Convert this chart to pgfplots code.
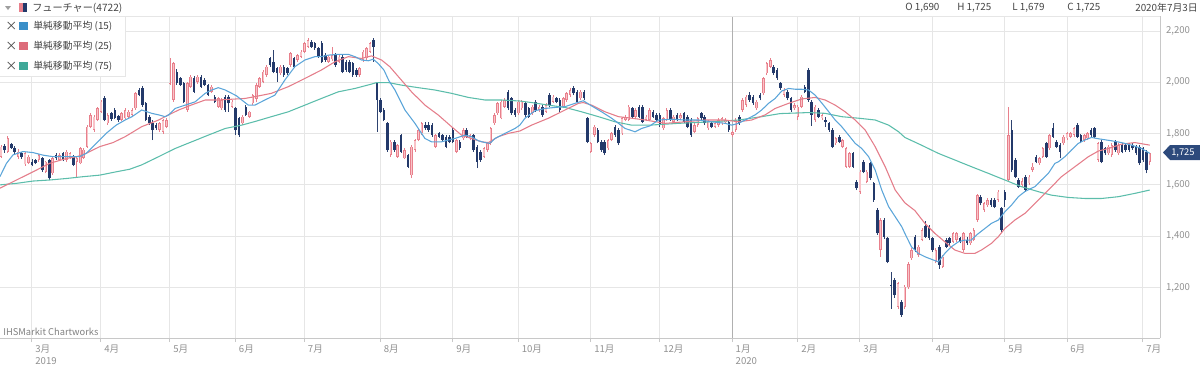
\documentclass[border=0pt]{standalone}
\usepackage{pgfplots}
\usepackage{pgfplotstable}
\pgfplotsset{compat=1.18}
\usepackage{fontspec}
\setmainfont{Noto Sans CJK JP}
\definecolor{upbody}{HTML}{F9C3C8}
\definecolor{upwick}{HTML}{E8808C}
\definecolor{dnbody}{HTML}{23396A}
\definecolor{dnwick}{HTML}{2E4370}
\definecolor{smaA}{HTML}{5BA5D9}
\definecolor{smaB}{HTML}{E47D8A}
\definecolor{smaC}{HTML}{5CBDAB}
\definecolor{sqA}{HTML}{3A8FC8}
\definecolor{sqB}{HTML}{DD6C7A}
\definecolor{sqC}{HTML}{3FA898}
\definecolor{gridgray}{HTML}{E6E6E6}
\definecolor{yeargray}{HTML}{B0B0B0}
\definecolor{axisgray}{HTML}{C8C8C8}
\definecolor{labgray}{HTML}{909090}
\definecolor{hdr}{HTML}{444444}
\definecolor{tagnavy}{HTML}{2D4A7C}
\pgfplotsset{
  up only/.style={restrict expr to domain={\thisrow{c}-\thisrow{o}}{0:100000}},
  down only/.style={restrict expr to domain={\thisrow{c}-\thisrow{o}}{-100000:-0.5}},
}
\pgfplotstableread{
i o h l c
-9 1710 1755 1705 1749
-8 1750 1760 1725 1735
-7 1730 1790 1725 1781
-6 1758 1765 1740 1745
-5 1745 1750 1720 1730
-4 1710 1740 1700 1730
-3 1723 1728 1700 1710
-2 1680 1728 1675 1723
-1 1685 1715 1680 1710
0 1690 1700 1672 1678
1 1697 1702 1680 1684
2 1697 1722 1690 1717
3 1703 1708 1652 1658
4 1650 1695 1645 1690
5 1697 1700 1620 1625
6 1645 1710 1640 1703
7 1717 1725 1698 1703
8 1697 1725 1692 1717
9 1723 1730 1692 1697
10 1697 1735 1690 1730
11 1705 1730 1700 1723
12 1710 1715 1672 1678
13 1690 1710 1632 1703
14 1684 1748 1680 1743
15 1705 1745 1700 1737
16 1749 1835 1745 1827
17 1827 1880 1820 1873
18 1814 1872 1808 1866
19 1853 1905 1848 1898
20 1885 1932 1880 1924
21 1937 1945 1848 1853
22 1840 1880 1835 1873
23 1880 1885 1850 1858
24 1892 1898 1855 1860
25 1867 1873 1845 1853
26 1853 1885 1848 1880
27 1860 1898 1855 1892
28 1866 1892 1860 1885
29 1873 1898 1868 1892
30 1898 1962 1893 1957
31 1970 1978 1945 1950
32 1976 1985 1905 1912
33 1918 1925 1848 1853
34 1866 1872 1835 1840
35 1840 1853 1775 1814
36 1833 1840 1815 1820
37 1814 1845 1808 1840
38 1808 1858 1800 1853
39 1827 1860 1820 1853
40 1995 2093 1990 1998
41 1931 2080 1925 2074
42 2041 2050 1990 1996
43 2015 2020 1985 1990
44 1996 2000 1918 1924
45 1892 2002 1885 1996
46 1983 2030 1978 2022
47 2015 2025 1958 1963
48 2002 2030 1995 2022
49 2022 2030 1978 1983
50 2009 2015 1985 1990
51 1990 1995 1945 1950
52 1963 1990 1958 1983
53 1944 1950 1918 1924
54 1905 1942 1900 1937
55 1898 1937 1893 1931
56 1944 1950 1885 1892
57 1944 1950 1885 1918
58 1905 1930 1900 1924
59 1898 1905 1794 1814
60 1860 1866 1788 1794
61 1840 1872 1835 1866
62 1905 1910 1868 1873
63 1866 1890 1860 1885
64 1918 1955 1912 1950
65 1935 1996 1925 1990
66 1983 2022 1978 2015
67 2002 2048 1996 2041
68 2028 2066 2022 2061
69 2093 2100 2060 2067
70 2080 2126 2035 2041
71 2054 2061 2002 2035
72 2035 2066 2030 2061
73 2061 2066 2022 2028
74 2054 2060 2030 2035
75 2067 2120 2060 2113
76 2093 2100 2055 2061
77 2087 2112 2080 2106
78 2100 2126 2095 2120
79 2120 2158 2115 2152
80 2139 2172 2134 2165
81 2158 2165 2134 2139
82 2152 2158 2126 2132
83 2132 2139 2095 2100
84 2152 2160 2075 2080
85 2106 2113 2080 2087
86 2080 2106 2075 2100
87 2090 2139 2085 2106
88 2106 2113 2061 2067
89 2080 2106 2075 2100
90 2100 2106 2035 2041
91 2080 2087 2041 2048
92 2080 2087 2035 2041
93 2074 2080 2022 2028
94 2048 2054 2022 2028
95 2028 2060 2022 2054
96 2087 2126 2080 2120
97 2093 2139 2087 2132
98 2120 2158 2115 2152
99 2165 2172 2080 2139
100 1996 2000 1808 1931
101 1931 1937 1880 1885
102 1892 1898 1848 1853
103 1840 1845 1730 1736
104 1716 1775 1710 1768
105 1768 1775 1730 1736
106 1710 1760 1705 1755
107 1794 1800 1725 1730
108 1704 1742 1700 1736
109 1716 1722 1665 1671
110 1638 1755 1625 1749
111 1736 1780 1730 1775
112 1775 1820 1770 1814
113 1801 1846 1795 1840
114 1833 1846 1815 1820
115 1833 1846 1808 1814
116 1833 1840 1788 1794
117 1749 1800 1742 1794
118 1801 1808 1782 1788
119 1794 1800 1770 1775
120 1788 1794 1742 1749
121 1788 1794 1762 1768
122 1814 1820 1762 1768
123 1730 1780 1723 1775
124 1768 1775 1736 1742
125 1781 1820 1775 1814
126 1814 1820 1782 1788
127 1781 1800 1775 1794
128 1794 1800 1730 1736
129 1749 1755 1665 1690
130 1730 1736 1690 1697
131 1710 1748 1705 1742
132 1736 1768 1730 1762
133 1762 1826 1755 1820
134 1840 1880 1835 1873
135 1879 1924 1873 1918
136 1860 1930 1855 1924
137 1905 1937 1900 1931
138 1963 1970 1892 1898
139 1937 1944 1873 1879
140 1892 1898 1866 1873
141 1879 1930 1873 1924
142 1898 1930 1892 1924
143 1918 1924 1866 1873
144 1898 1905 1860 1866
145 1879 1910 1873 1905
146 1924 1930 1885 1892
147 1892 1910 1885 1905
148 1905 1910 1866 1873
149 1885 1918 1880 1911
150 1950 1957 1905 1911
151 1924 1950 1918 1944
152 1937 1944 1918 1924
153 1931 1937 1885 1892
154 1905 1944 1900 1937
155 1931 1963 1924 1957
156 1950 1976 1944 1970
157 1976 1985 1950 1957
158 1963 1970 1918 1924
159 1937 1970 1930 1963
160 1963 1970 1930 1937
161 1860 1865 1762 1768
162 1730 1768 1725 1762
163 1794 1833 1788 1827
164 1814 1820 1762 1768
165 1768 1775 1730 1736
166 1768 1775 1718 1723
167 1742 1780 1736 1775
168 1775 1808 1770 1801
169 1827 1833 1788 1794
170 1814 1820 1755 1762
171 1801 1866 1795 1860
172 1853 1872 1848 1866
173 1853 1911 1848 1905
174 1898 1905 1860 1866
175 1866 1898 1860 1892
176 1905 1911 1860 1866
177 1905 1911 1840 1847
178 1853 1872 1848 1866
179 1853 1898 1848 1892
180 1885 1892 1860 1866
181 1873 1880 1848 1853
182 1873 1880 1827 1833
183 1820 1866 1814 1860
184 1853 1898 1848 1892
185 1892 1898 1848 1853
186 1847 1872 1840 1866
187 1873 1880 1848 1853
188 1860 1880 1855 1873
189 1879 1885 1840 1847
190 1866 1872 1820 1827
191 1853 1860 1788 1794
192 1808 1840 1801 1833
193 1833 1866 1827 1860
194 1879 1885 1853 1860
195 1866 1872 1833 1840
196 1820 1853 1814 1846
197 1840 1846 1820 1827
198 1827 1846 1820 1840
199 1833 1860 1827 1853
200 1840 1866 1833 1860
201 1847 1860 1840 1853
202 1847 1853 1808 1814
203 1795 1810 1788 1805
204 1814 1860 1808 1853
205 1866 1872 1835 1840
206 1892 1937 1885 1931
207 1912 1950 1905 1944
208 1950 1963 1924 1931
209 1944 1950 1912 1918
210 1898 1930 1892 1924
211 1950 1957 1930 1937
212 1957 2022 1950 2015
213 2035 2080 2028 2074
214 2061 2093 2055 2087
215 2061 2067 2028 2035
216 2048 2054 2009 2015
217 1996 2002 1970 1976
218 1950 1976 1944 1970
219 1963 1970 1930 1937
220 1937 1944 1885 1892
221 1898 1918 1892 1911
222 1866 1911 1853 1905
223 1905 1950 1898 1944
224 1983 1990 1957 1963
225 2048 2055 1925 1931
226 1924 1930 1830 1873
227 1853 1911 1846 1905
228 1892 1898 1860 1866
229 1860 1880 1853 1873
230 1852 1866 1827 1846
231 1840 1846 1808 1814
232 1814 1820 1742 1749
233 1762 1788 1755 1781
234 1788 1794 1762 1768
235 1749 1780 1742 1775
236 1671 1748 1665 1742
237 1671 1730 1665 1723
238 1725 1730 1665 1671
239 1612 1618 1580 1587
240 1574 1658 1565 1651
241 1690 1697 1645 1651
242 1612 1658 1606 1651
243 1684 1690 1618 1625
244 1606 1612 1535 1541
245 1502 1510 1405 1411
246 1346 1470 1320 1463
247 1463 1470 1390 1398
248 1391 1398 1294 1300
249 1210 1262 1118 1204
250 1229 1236 1160 1170
251 1125 1222 1115 1216
252 1144 1150 1085 1093
253 1125 1210 1118 1203
254 1200 1300 1195 1290
255 1314 1352 1308 1346
256 1398 1405 1340 1346
257 1327 1365 1320 1359
258 1385 1430 1380 1424
259 1440 1460 1392 1398
260 1437 1445 1385 1392
261 1391 1398 1340 1346
262 1300 1352 1294 1346
263 1359 1365 1274 1288
264 1281 1327 1275 1320
265 1385 1392 1352 1359
266 1391 1398 1365 1372
267 1378 1418 1372 1411
268 1385 1418 1378 1411
269 1391 1398 1372 1378
270 1346 1418 1340 1411
271 1387 1395 1365 1372
272 1372 1418 1365 1411
273 1385 1430 1380 1424
274 1463 1566 1455 1560
275 1554 1560 1520 1528
276 1502 1535 1495 1528
277 1521 1548 1515 1541
278 1541 1548 1515 1521
279 1541 1548 1508 1515
280 1541 1580 1535 1573
281 1508 1515 1418 1424
282 1573 1580 1515 1541
283 1619 1905 1612 1794
284 1814 1853 1650 1658
285 1697 1703 1625 1632
286 1619 1625 1587 1593
287 1600 1625 1593 1615
288 1632 1640 1573 1580
289 1606 1638 1600 1632
290 1658 1684 1651 1671
291 1710 1716 1684 1690
292 1684 1710 1678 1703
293 1710 1748 1705 1742
294 1762 1768 1705 1710
295 1742 1800 1736 1794
296 1820 1840 1782 1788
297 1768 1775 1742 1749
298 1755 1762 1703 1730
299 1762 1794 1755 1788
300 1781 1808 1775 1801
301 1788 1808 1782 1801
302 1794 1827 1788 1820
303 1833 1843 1782 1788
304 1794 1800 1762 1768
305 1775 1800 1768 1794
306 1781 1808 1775 1801
307 1814 1820 1788 1794
308 1820 1827 1782 1788
309 1697 1768 1690 1762
310 1768 1775 1684 1690
311 1742 1749 1716 1723
312 1723 1755 1716 1749
313 1716 1762 1710 1755
314 1768 1775 1730 1736
315 1723 1762 1716 1755
316 1755 1762 1723 1730
317 1755 1762 1730 1736
318 1755 1762 1730 1736
319 1755 1762 1736 1742
320 1749 1755 1716 1723
321 1749 1755 1678 1684
322 1742 1749 1690 1697
323 1730 1736 1645 1658
324 1690 1725 1679 1725
}\candles
\begin{document}
\begin{tikzpicture}
\useasboundingbox (0pt,0pt) rectangle (900pt,-273.75pt);
\begin{axis}[
  at={(0pt,-253.5pt)}, anchor=south west,
  scale only axis, width=870pt, height=241.5pt,
  xmin=-9.275, xmax=326.96, ymin=1003, ymax=2258.5,
  axis x line*=bottom, axis y line*=right,
  axis line style={draw=axisgray, line width=0.75pt, -},
  grid=major, major grid style={draw=gridgray, line width=0.75pt},
  xtick={0,20,40,59,79,101,122,141,162,182,222,240,261,282,300,322},
  xticklabels={3月\\2019,4月,5月,6月,7月,8月,9月,10月,11月,12月,2月,3月,4月,5月,6月,7月},
  extra x ticks={203}, extra x tick labels={1月\\2020},
  extra x tick style={major grid style={draw=yeargray, line width=0.75pt}},
  xticklabel style={align=left, anchor=north west, xshift=-1pt, yshift=1pt, font=\fontsize{7.2}{9}\selectfont, text=labgray},
  ytick={1200,1400,1600,1800,2000,2200},
  yticklabel style={anchor=west, xshift=-2pt, font=\fontsize{7.2}{9}\selectfont, text=labgray},
  xtick style={draw=axisgray, line width=0.75pt},
  ytick style={draw=none},
  tick align=outside, major tick length=3pt,
  /pgf/number format/assume math mode=true,
  /pgf/number format/1000 sep={,},
]
% wicks
\addplot[draw=none, mark=none, up only, error bars/.cd, y dir=plus, y explicit, error mark=none, error bar style={draw=upwick, line width=0.6pt}]
  table[x=i, y=l, y error plus expr=\thisrow{h}-\thisrow{l}] {\candles};
\addplot[draw=none, mark=none, down only, error bars/.cd, y dir=plus, y explicit, error mark=none, error bar style={draw=dnwick, line width=0.6pt}]
  table[x=i, y=l, y error plus expr=\thisrow{h}-\thisrow{l}] {\candles};
% bodies: up candles outlined, light fill
\addplot[draw=none, mark=none, up only, error bars/.cd, y dir=plus, y explicit, error mark=none, error bar style={draw=upwick, line width=1.9pt}]
  table[x=i, y=o, y error plus expr=\thisrow{c}-\thisrow{o}] {\candles};
\addplot[draw=none, mark=none, up only, error bars/.cd, y dir=plus, y explicit, error mark=none, error bar style={draw=upbody, line width=0.9pt}]
  table[x=i, y expr=\thisrow{o}+2.5, y error plus expr={max(\thisrow{c}-\thisrow{o}-5,0)}] {\candles};
\addplot[draw=none, mark=none, down only, error bars/.cd, y dir=plus, y explicit, error mark=none, error bar style={draw=dnbody, line width=1.9pt}]
  table[x=i, y=c, y error plus expr=\thisrow{o}-\thisrow{c}] {\candles};
% SMA 75
\addplot[smaC, line width=0.8pt, mark=none] coordinates {
(-9.3,1600) (-4.5,1606) (0.3,1615) (5.1,1619) (10,1625) (14.8,1632) (19.6,1638) (24.4,1651) (28.3,1661) (31.8,1678) (36.7,1710) (41.5,1742) (46.3,1768) (51.1,1794) (56,1820) (60.8,1833) (64.6,1847) (69.4,1866) (74.3,1885) (79.1,1911) (83.9,1937) (88.8,1963) (93.6,1976) (98.4,1993) (99.9,1999) (103.2,1999) (107.1,1989) (112,1979) (116.8,1970) (121.6,1957) (126.5,1941) (131.3,1931) (136.1,1931) (141.4,1927) (144.8,1921) (149.7,1911) (154.5,1902) (159.3,1885) (164.2,1866) (169,1846) (173.8,1833) (179.1,1833) (187.4,1840) (197,1846) (204.8,1853) (211.5,1866) (216.8,1878) (225.1,1882) (229.9,1879) (234.7,1866) (239.6,1860) (244.4,1853) (248.3,1833) (251.2,1807) (253,1785) (257.8,1755) (262.7,1723) (267.5,1697) (272.3,1671) (277.2,1645) (282,1619) (286.8,1593) (292.1,1572) (295.5,1560) (300.4,1551) (305.2,1547) (310,1547) (314.9,1554) (319.7,1567) (324,1580)};
% SMA 25
\addplot[smaB, line width=0.8pt, mark=none] coordinates {
(-9.3,1587) (-4.5,1619) (0.3,1651) (5.1,1684) (10,1703) (13,1710) (15.7,1723) (19.6,1749) (23.5,1765) (27,1788) (31.8,1827) (36.7,1853) (39.6,1873) (42.5,1892) (46.3,1912) (50.2,1931) (54,1931) (57.9,1934) (61.7,1937) (64.6,1944) (69.4,1957) (74.3,1983) (79.1,2015) (83.9,2048) (87.8,2080) (91.7,2100) (95.5,2093) (98.4,2103) (101.3,2087) (103.7,2061) (106.2,2022) (110,1963) (113.9,1911) (117.8,1872) (121.6,1827) (124.5,1794) (127.4,1781) (130.3,1768) (132.3,1765) (135.2,1788) (138.1,1801) (141.4,1810) (144.8,1833) (149.7,1860) (154.5,1892) (158.4,1918) (159.8,1921) (162.2,1911) (166.1,1885) (170,1866) (173.8,1860) (177.7,1853) (183.5,1840) (189.3,1846) (195.1,1853) (200.9,1853) (204.8,1846) (208.6,1853) (212.5,1873) (215.4,1898) (219.3,1918) (223.1,1935) (227,1941) (229.9,1931) (232.8,1911) (235.7,1885) (238.6,1853) (241.5,1814) (244.4,1749) (247.3,1671) (250.2,1580) (253,1530) (255.9,1500) (258.8,1450) (261.7,1411) (264.6,1378) (267.5,1346) (270.4,1333) (273.3,1333) (275.2,1346) (278.1,1372) (280.1,1398) (282,1430) (284.9,1463) (287.8,1489) (290.7,1528) (294.6,1580) (298.4,1632) (302.3,1671) (306.2,1710) (309.1,1732) (312,1742) (315.8,1759) (319.7,1765) (324,1755)};
% SMA 15
\addplot[smaA, line width=0.8pt, mark=none] coordinates {
(-9.3,1632) (-7.4,1684) (-5.5,1717) (-2.6,1730) (0.3,1726) (3.2,1716) (6.1,1710) (10,1710) (13.8,1710) (15.7,1723) (18.6,1762) (21.5,1801) (24.4,1833) (27,1853) (29,1866) (31.8,1892) (34.7,1879) (36.7,1873) (38.6,1866) (39.6,1873) (41.5,1898) (44.4,1911) (47.3,1924) (50.2,1957) (52.1,1970) (54,1979) (56,1970) (57.9,1957) (59.3,1947) (60.8,1931) (62.7,1911) (64.6,1911) (67.5,1931) (70.4,1950) (73.3,2009) (76.2,2061) (79.1,2087) (82,2100) (83.9,2100) (85.9,2106) (88.8,2109) (91.7,2109) (93.6,2100) (95.5,2087) (97.5,2084) (98.9,2090) (100.3,2074) (102,2048) (103.5,2005) (105.2,1970) (108.1,1892) (111,1840) (112.9,1801) (113.9,1781) (115.8,1768) (118.7,1768) (120.7,1775) (122.6,1781) (125.5,1794) (127.4,1788) (129.4,1772) (131.3,1765) (132.7,1762) (134.2,1781) (137.1,1801) (140,1820) (141.4,1833) (142.9,1860) (145.8,1889) (148.7,1898) (151.6,1902) (154.5,1905) (157.4,1918) (159.8,1928) (162.2,1908) (165.1,1885) (168,1860) (170,1840) (171.9,1820) (173.3,1814) (174.8,1807) (176.7,1820) (179.1,1830) (181.6,1853) (185.4,1856) (189.3,1853) (193.2,1853) (197,1846) (200.9,1840) (202.8,1833) (204.8,1840) (206.7,1853) (209.6,1873) (211.5,1892) (213.5,1918) (215.4,1937) (217.3,1966) (219.3,1976) (221.2,1973) (223.1,1973) (225.1,1970) (227,1950) (229,1918) (230.9,1886) (232.8,1853) (234.7,1827) (236.7,1794) (238.6,1762) (240.5,1742) (242.5,1710) (244.4,1658) (246.3,1580) (248.3,1515) (250.2,1476) (252.1,1437) (253,1411) (254.9,1359) (256.9,1333) (258.8,1320) (260.7,1310) (262.7,1300) (264.6,1333) (266.5,1359) (268.5,1378) (270.4,1385) (272.3,1385) (273.8,1405) (276.2,1430) (278.1,1450) (280.1,1463) (282,1495) (283.9,1521) (285.9,1554) (287.8,1574) (289.7,1587) (290.7,1593) (292.6,1619) (294.6,1645) (296.5,1684) (297.5,1690) (299.4,1710) (301.3,1736) (303.3,1762) (305.2,1775) (307.1,1785) (308.6,1781) (310,1778) (312.9,1772) (315.8,1765) (318.7,1755) (321.6,1742) (324,1723)};
\end{axis}
\begin{scope}[x=0.75pt, y=-0.75pt]
% top rule
\draw[gridgray, line width=0.75pt] (0,16) -- (1160,16);
% header
\fill[gray!75] (5,6) -- (11,6) -- (8,10) -- cycle;
\fill[upwick] (19,3) rectangle (23,12);
\fill[dnbody] (23,3) rectangle (27,12);
\node[anchor=west, inner sep=0pt, font=\fontsize{7.6}{9}\selectfont, text=hdr] at (32,8) {フューチャー(4722)};
\begin{scope}[every node/.style={anchor=west, inner sep=0pt, font=\fontsize{7.4}{9}\selectfont, text=hdr}]
\node at (905,8) {O 1,690};
\node at (957,8) {H 1,725};
\node at (1012,8) {L 1,679};
\node at (1067,8) {C 1,725};
\node[anchor=east] at (1198,8) {2020年7月3日};
\end{scope}
% legend box
\filldraw[fill=white, draw=gridgray, line width=0.75pt] (-1,16) rectangle (125,76);
\begin{scope}[every node/.style={anchor=west, inner sep=0pt, font=\fontsize{7.4}{9}\selectfont, text=hdr}]
\node at (5,26) {\fontsize{9}{9}\selectfont ×};
\fill[sqA] (19,22) rectangle (28,30);
\node at (33,26) {単純移動平均 (15)};
\node at (5,46) {\fontsize{9}{9}\selectfont ×};
\fill[sqB] (19,42) rectangle (28,50);
\node at (33,46) {単純移動平均 (25)};
\node at (5,66) {\fontsize{9}{9}\selectfont ×};
\fill[sqC] (19,62) rectangle (28,70);
\node at (33,66) {単純移動平均 (75)};
\end{scope}
% watermark
\node[anchor=west, inner sep=0pt, font=\fontsize{7}{8}\selectfont, text=gray] at (3,332) {IHSMarkit Chartworks};
% last price tag
\fill[tagnavy] (1163,152.5) -- (1170,145) -- (1200,145) -- (1200,160) -- (1170,160) -- cycle;
\node[anchor=west, inner sep=0pt, font=\fontsize{7}{8}\selectfont, text=white] at (1171,152.5) {1,725};
\end{scope}
\end{tikzpicture}
\end{document}
